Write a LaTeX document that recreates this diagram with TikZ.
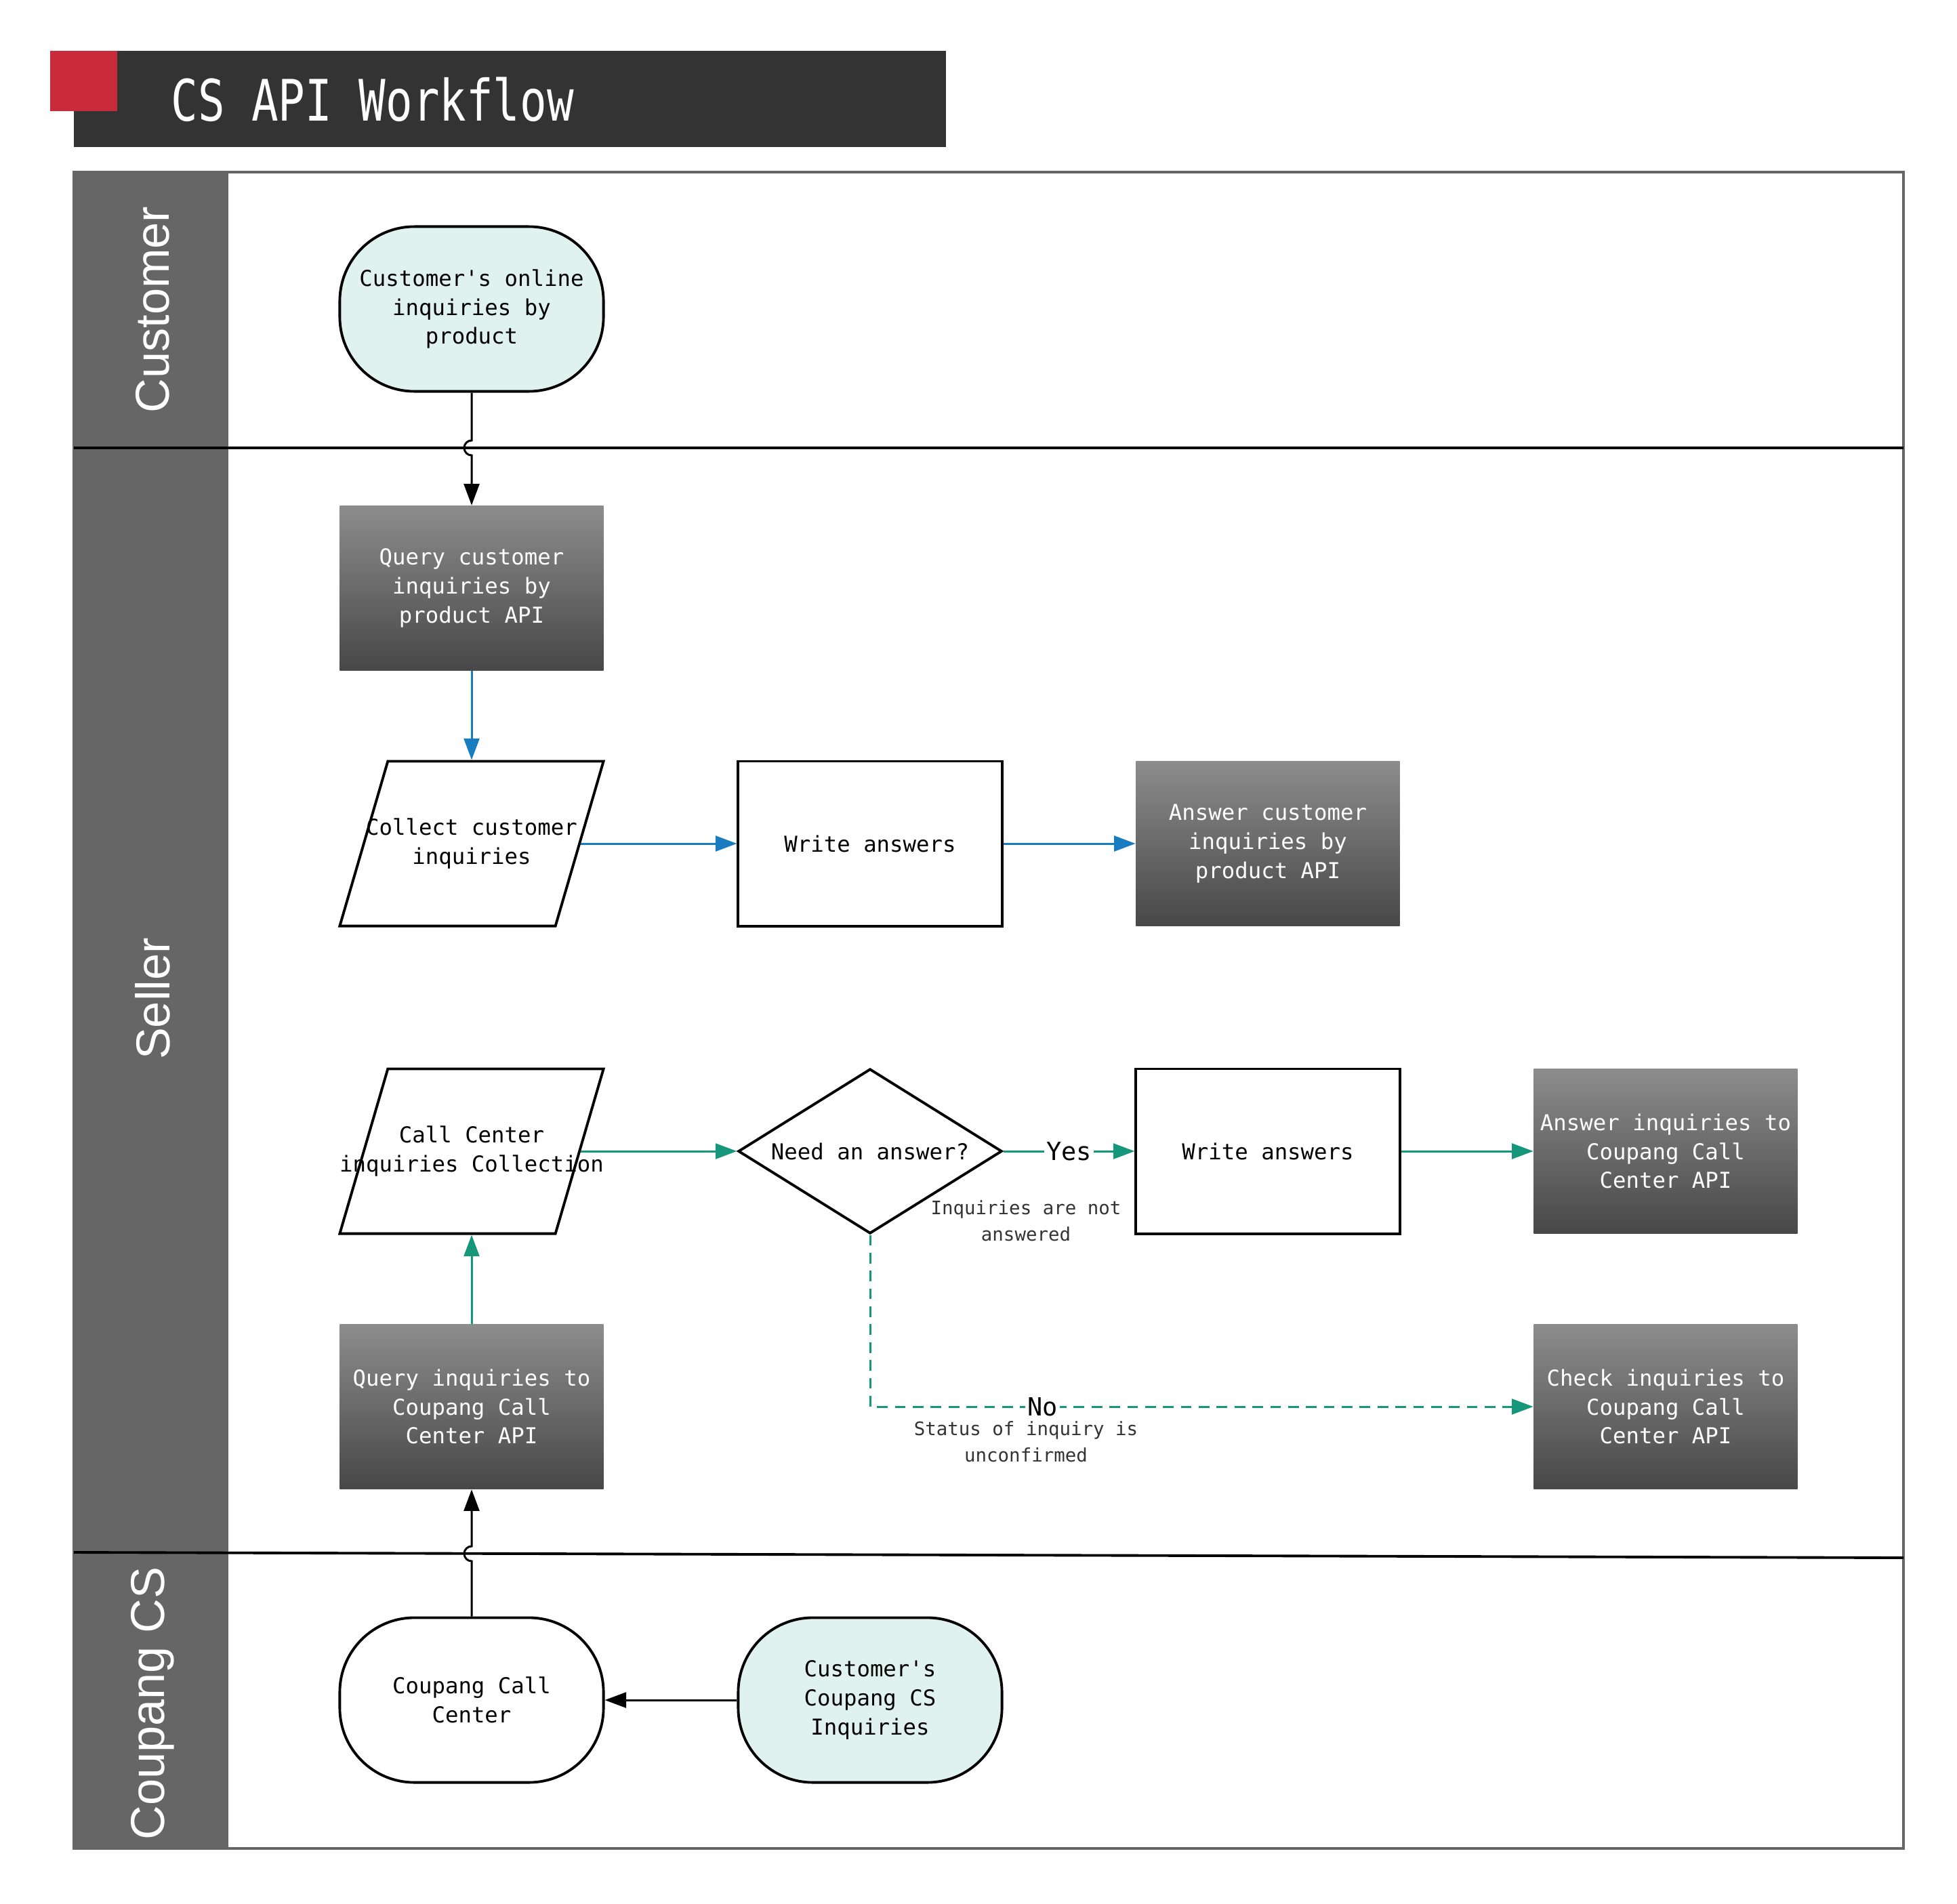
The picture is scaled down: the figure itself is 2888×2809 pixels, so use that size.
\documentclass[tikz,border=0pt]{standalone}
\usepackage{fontspec}
\setmainfont{DejaVu Sans Mono}
\newfontfamily\lanefont{Liberation Sans}
\newfontfamily\titlefont[FakeStretch=0.78]{DejaVu Sans Mono}
\usetikzlibrary{shapes.geometric,arrows.meta}
\definecolor{barcol}{HTML}{333333}
\definecolor{redsq}{HTML}{C92B3B}
\definecolor{lanecol}{HTML}{666666}
\definecolor{termfill}{HTML}{E0F2F0}
\definecolor{blueflow}{HTML}{1A7CC0}
\definecolor{tealflow}{HTML}{16967A}
\definecolor{notecol}{HTML}{333333}

\begin{document}
\begin{tikzpicture}[x=0.01cm,y=-0.01cm,font=\fontsize{9.2}{12.2}\selectfont,
	box/.style={minimum width=3.89cm, minimum height=2.43cm, inner sep=1pt, align=center},
	term/.style={box, draw, line width=1.1pt, rounded corners=1.1cm},
	proc/.style={box, draw, line width=1.1pt},
	api/.style={box, top color=gray!90!white, bottom color=black!72, text=white},
	io/.style={box, draw, line width=1.1pt, trapezium, trapezium left angle=74, trapezium right angle=106, trapezium stretches=true},
	decision/.style={box, draw, line width=1.1pt, diamond, inner sep=0pt},
	lanelbl/.style={rotate=90, text=white, font=\lanefont\fontsize{20}{24}\selectfont},
	note/.style={align=center, text=notecol, font=\fontsize{7.8}{11}\selectfont},
	cond/.style={fill=white, text=black, inner sep=1pt, font=\fontsize{10.5}{12}\selectfont},
	tip/.style={-{Triangle[length=9pt,width=6.5pt]}},
	flow/.style={tip, line width=0.85pt},
	bflow/.style={flow, blueflow},
	tflow/.style={flow, tealflow}]
	\useasboundingbox (0,0) rectangle (2888,2809);
	\fill[barcol] (109,75) rectangle (1396,217);
	\fill[redsq] (74,75) rectangle (173,164);
	\node[anchor=west, text=white, font=\titlefont\fontsize{24}{28}\selectfont] (title) at (240,147) {CS API Workflow};
	\fill[lanecol] (109,254) rectangle (337,2728);
	\draw[lanecol, line width=0.9pt] (109,254) rectangle (2809,2728);
	\draw[line width=1.1pt] (109,661) -- (2809,661);
	\draw[line width=1.1pt] (109,2291) -- (2809,2299);
	\node[lanelbl] (lcust) at (225,457) {Customer};
	\node[lanelbl] (lsell) at (225,1474) {Seller};
	\node[lanelbl] (lcs) at (225,2514) {Coupang CS};

	\node[term, fill=termfill] (cust) at (696,456) {Customer\textquotesingle s online\\inquiries by\\product};
	\node[api] (qapi) at (696,868) {Query customer\\inquiries by\\product API};
	\node[io, label={[align=center]center:Collect customer\\inquiries}] (coll) at (696,1245) {};
	\node[proc] (wa1) at (1284,1245) {Write answers};
	\node[api] (ans1) at (1871,1245) {Answer customer\\inquiries by\\product API};
	\node[io, label={[align=center]center:Call Center\\inquiries Collection}] (cci) at (696,1699) {};
	\node[decision, label={center:Need an answer?}] (need) at (1284,1699) {};
	\node[proc] (wa2) at (1871,1699) {Write answers};
	\node[api] (ans2) at (2458,1699) {Answer inquiries to\\Coupang Call\\Center API};
	\node[api] (qcc) at (696,2076) {Query inquiries to\\Coupang Call\\Center API};
	\node[api] (chk) at (2458,2076) {Check inquiries to\\Coupang Call\\Center API};
	\node[term] (ccc) at (696,2509) {Coupang Call\\Center};
	\node[term, fill=termfill] (cs) at (1284,2509) {Customer\textquotesingle s\\Coupang CS\\Inquiries};
	\node[note] (notans) at (1514,1802) {Inquiries are not\\answered};
	\node[note] (unconf) at (1514,2128) {Status of inquiry is\\unconfirmed};
	\coordinate (j1) at (696,661);
	\coordinate (j2) at (696,2293);

	\draw[flow] (cust.south) -- ([yshift=0.11cm]j1) arc[start angle=90, end angle=270, radius=0.11cm] -- (qapi.north);
	\draw[bflow] (qapi.south) -- (coll.north);
	\draw[bflow] (coll) -- (wa1);
	\draw[bflow] (wa1) -- (ans1);
	\draw[tflow] (cci) -- (need);
	\draw[tflow] (need) -- node[cond] {Yes} (wa2);
	\draw[tflow] (wa2) -- (ans2);
	\draw[tflow, dash pattern=on 4.5pt off 3pt] (need.south) |- node[cond, pos=0.63] {No} (chk.west);
	\draw[tflow] (qcc.north) -- (cci.south);
	\draw[flow] (ccc.north) -- ([yshift=-0.11cm]j2) arc[start angle=270, end angle=90, radius=0.11cm] -- (qcc.south);
	\draw[flow] (cs) -- (ccc);
\end{tikzpicture}
\end{document}
